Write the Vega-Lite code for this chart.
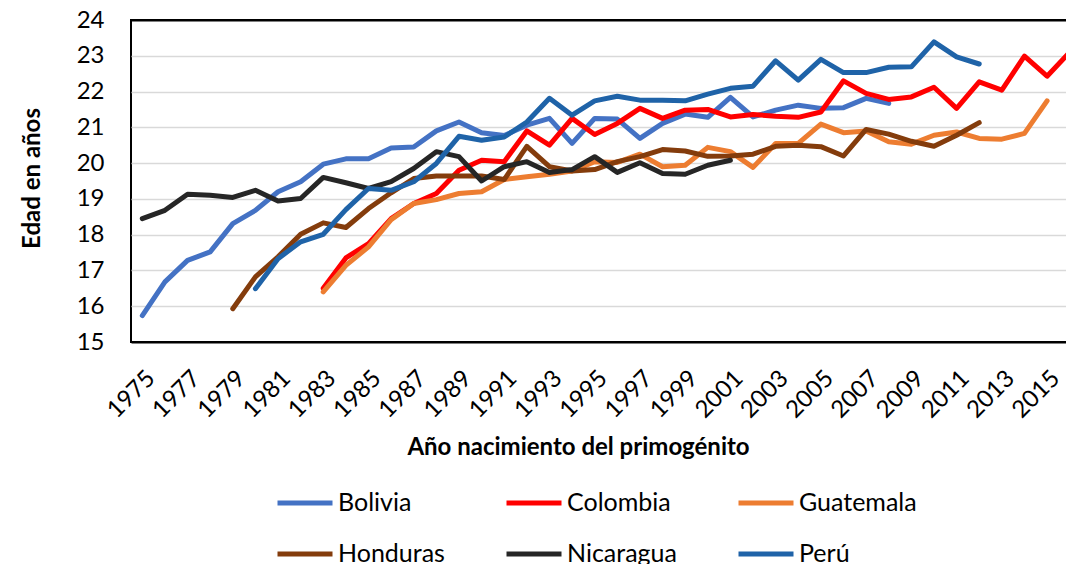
{
  "$schema": "https://vega.github.io/schema/vega-lite/v6.json",
  "width": 950,
  "height": 322,
  "autosize": "none",
  "padding": {"left": 131, "top": 20, "right": 0, "bottom": 230},
  "background": "white",
  "config": {
    "font": "Lato",
    "view": {"stroke": "black", "strokeWidth": 2},
    "axis": {"labelColor": "black", "titleColor": "black"},
    "legend": {"labelColor": "black"}
  },
  "data": {"values": [
    {"p":"Bolivia","a":1975,"v":15.74},{"p":"Bolivia","a":1976,"v":16.68},{"p":"Bolivia","a":1977,"v":17.28},{"p":"Bolivia","a":1978,"v":17.52},{"p":"Bolivia","a":1979,"v":18.31},{"p":"Bolivia","a":1980,"v":18.68},{"p":"Bolivia","a":1981,"v":19.2},{"p":"Bolivia","a":1982,"v":19.48},{"p":"Bolivia","a":1983,"v":19.97},{"p":"Bolivia","a":1984,"v":20.12},{"p":"Bolivia","a":1985,"v":20.12},{"p":"Bolivia","a":1986,"v":20.42},{"p":"Bolivia","a":1987,"v":20.45},{"p":"Bolivia","a":1988,"v":20.9},{"p":"Bolivia","a":1989,"v":21.15},{"p":"Bolivia","a":1990,"v":20.85},{"p":"Bolivia","a":1991,"v":20.77},{"p":"Bolivia","a":1992,"v":21.06},{"p":"Bolivia","a":1993,"v":21.25},{"p":"Bolivia","a":1994,"v":20.55},{"p":"Bolivia","a":1995,"v":21.25},{"p":"Bolivia","a":1996,"v":21.23},{"p":"Bolivia","a":1997,"v":20.69},{"p":"Bolivia","a":1998,"v":21.11},{"p":"Bolivia","a":1999,"v":21.37},{"p":"Bolivia","a":2000,"v":21.28},{"p":"Bolivia","a":2001,"v":21.84},{"p":"Bolivia","a":2002,"v":21.29},{"p":"Bolivia","a":2003,"v":21.48},{"p":"Bolivia","a":2004,"v":21.62},{"p":"Bolivia","a":2005,"v":21.53},{"p":"Bolivia","a":2006,"v":21.55},{"p":"Bolivia","a":2007,"v":21.81},{"p":"Bolivia","a":2008,"v":21.67},
    {"p":"Colombia","a":1983,"v":16.5},{"p":"Colombia","a":1984,"v":17.35},{"p":"Colombia","a":1985,"v":17.75},{"p":"Colombia","a":1986,"v":18.45},{"p":"Colombia","a":1987,"v":18.87},{"p":"Colombia","a":1988,"v":19.15},{"p":"Colombia","a":1989,"v":19.8},{"p":"Colombia","a":1990,"v":20.08},{"p":"Colombia","a":1991,"v":20.04},{"p":"Colombia","a":1992,"v":20.9},{"p":"Colombia","a":1993,"v":20.5},{"p":"Colombia","a":1994,"v":21.25},{"p":"Colombia","a":1995,"v":20.8},{"p":"Colombia","a":1996,"v":21.11},{"p":"Colombia","a":1997,"v":21.53},{"p":"Colombia","a":1998,"v":21.25},{"p":"Colombia","a":1999,"v":21.48},{"p":"Colombia","a":2000,"v":21.5},{"p":"Colombia","a":2001,"v":21.29},{"p":"Colombia","a":2002,"v":21.36},{"p":"Colombia","a":2003,"v":21.31},{"p":"Colombia","a":2004,"v":21.28},{"p":"Colombia","a":2005,"v":21.43},{"p":"Colombia","a":2006,"v":22.3},{"p":"Colombia","a":2007,"v":21.95},{"p":"Colombia","a":2008,"v":21.78},{"p":"Colombia","a":2009,"v":21.85},{"p":"Colombia","a":2010,"v":22.12},{"p":"Colombia","a":2011,"v":21.53},{"p":"Colombia","a":2012,"v":22.27},{"p":"Colombia","a":2013,"v":22.04},{"p":"Colombia","a":2014,"v":22.99},{"p":"Colombia","a":2015,"v":22.43},{"p":"Colombia","a":2016,"v":23.1},
    {"p":"Guatemala","a":1983,"v":16.4},{"p":"Guatemala","a":1984,"v":17.14},{"p":"Guatemala","a":1985,"v":17.66},{"p":"Guatemala","a":1986,"v":18.42},{"p":"Guatemala","a":1987,"v":18.87},{"p":"Guatemala","a":1988,"v":18.98},{"p":"Guatemala","a":1989,"v":19.15},{"p":"Guatemala","a":1990,"v":19.2},{"p":"Guatemala","a":1991,"v":19.54},{"p":"Guatemala","a":1992,"v":19.62},{"p":"Guatemala","a":1993,"v":19.69},{"p":"Guatemala","a":1994,"v":19.78},{"p":"Guatemala","a":1995,"v":20.04},{"p":"Guatemala","a":1996,"v":20.02},{"p":"Guatemala","a":1997,"v":20.25},{"p":"Guatemala","a":1998,"v":19.9},{"p":"Guatemala","a":1999,"v":19.94},{"p":"Guatemala","a":2000,"v":20.44},{"p":"Guatemala","a":2001,"v":20.32},{"p":"Guatemala","a":2002,"v":19.88},{"p":"Guatemala","a":2003,"v":20.55},{"p":"Guatemala","a":2004,"v":20.55},{"p":"Guatemala","a":2005,"v":21.09},{"p":"Guatemala","a":2006,"v":20.85},{"p":"Guatemala","a":2007,"v":20.9},{"p":"Guatemala","a":2008,"v":20.6},{"p":"Guatemala","a":2009,"v":20.53},{"p":"Guatemala","a":2010,"v":20.78},{"p":"Guatemala","a":2011,"v":20.87},{"p":"Guatemala","a":2012,"v":20.69},{"p":"Guatemala","a":2013,"v":20.67},{"p":"Guatemala","a":2014,"v":20.83},{"p":"Guatemala","a":2015,"v":21.74},
    {"p":"Honduras","a":1979,"v":15.93},{"p":"Honduras","a":1980,"v":16.82},{"p":"Honduras","a":1981,"v":17.38},{"p":"Honduras","a":1982,"v":18.01},{"p":"Honduras","a":1983,"v":18.33},{"p":"Honduras","a":1984,"v":18.2},{"p":"Honduras","a":1985,"v":18.73},{"p":"Honduras","a":1986,"v":19.17},{"p":"Honduras","a":1987,"v":19.57},{"p":"Honduras","a":1988,"v":19.64},{"p":"Honduras","a":1989,"v":19.64},{"p":"Honduras","a":1990,"v":19.64},{"p":"Honduras","a":1991,"v":19.54},{"p":"Honduras","a":1992,"v":20.47},{"p":"Honduras","a":1993,"v":19.9},{"p":"Honduras","a":1994,"v":19.78},{"p":"Honduras","a":1995,"v":19.82},{"p":"Honduras","a":1996,"v":20.04},{"p":"Honduras","a":1997,"v":20.18},{"p":"Honduras","a":1998,"v":20.38},{"p":"Honduras","a":1999,"v":20.34},{"p":"Honduras","a":2000,"v":20.19},{"p":"Honduras","a":2001,"v":20.2},{"p":"Honduras","a":2002,"v":20.25},{"p":"Honduras","a":2003,"v":20.47},{"p":"Honduras","a":2004,"v":20.5},{"p":"Honduras","a":2005,"v":20.46},{"p":"Honduras","a":2006,"v":20.2},{"p":"Honduras","a":2007,"v":20.94},{"p":"Honduras","a":2008,"v":20.81},{"p":"Honduras","a":2009,"v":20.61},{"p":"Honduras","a":2010,"v":20.47},{"p":"Honduras","a":2011,"v":20.78},{"p":"Honduras","a":2012,"v":21.13},
    {"p":"Nicaragua","a":1975,"v":18.45},{"p":"Nicaragua","a":1976,"v":18.68},{"p":"Nicaragua","a":1977,"v":19.13},{"p":"Nicaragua","a":1978,"v":19.1},{"p":"Nicaragua","a":1979,"v":19.04},{"p":"Nicaragua","a":1980,"v":19.24},{"p":"Nicaragua","a":1981,"v":18.94},{"p":"Nicaragua","a":1982,"v":19.01},{"p":"Nicaragua","a":1983,"v":19.6},{"p":"Nicaragua","a":1984,"v":19.45},{"p":"Nicaragua","a":1985,"v":19.29},{"p":"Nicaragua","a":1986,"v":19.48},{"p":"Nicaragua","a":1987,"v":19.85},{"p":"Nicaragua","a":1988,"v":20.32},{"p":"Nicaragua","a":1989,"v":20.18},{"p":"Nicaragua","a":1990,"v":19.5},{"p":"Nicaragua","a":1991,"v":19.9},{"p":"Nicaragua","a":1992,"v":20.04},{"p":"Nicaragua","a":1993,"v":19.74},{"p":"Nicaragua","a":1994,"v":19.82},{"p":"Nicaragua","a":1995,"v":20.18},{"p":"Nicaragua","a":1996,"v":19.74},{"p":"Nicaragua","a":1997,"v":20.01},{"p":"Nicaragua","a":1998,"v":19.71},{"p":"Nicaragua","a":1999,"v":19.69},{"p":"Nicaragua","a":2000,"v":19.94},{"p":"Nicaragua","a":2001,"v":20.08},
    {"p":"Perú","a":1980,"v":16.49},{"p":"Perú","a":1981,"v":17.33},{"p":"Perú","a":1982,"v":17.8},{"p":"Perú","a":1983,"v":18.01},{"p":"Perú","a":1984,"v":18.7},{"p":"Perú","a":1985,"v":19.29},{"p":"Perú","a":1986,"v":19.24},{"p":"Perú","a":1987,"v":19.48},{"p":"Perú","a":1988,"v":19.99},{"p":"Perú","a":1989,"v":20.75},{"p":"Perú","a":1990,"v":20.64},{"p":"Perú","a":1991,"v":20.73},{"p":"Perú","a":1992,"v":21.15},{"p":"Perú","a":1993,"v":21.81},{"p":"Perú","a":1994,"v":21.34},{"p":"Perú","a":1995,"v":21.74},{"p":"Perú","a":1996,"v":21.87},{"p":"Perú","a":1997,"v":21.76},{"p":"Perú","a":1998,"v":21.76},{"p":"Perú","a":1999,"v":21.74},{"p":"Perú","a":2000,"v":21.93},{"p":"Perú","a":2001,"v":22.09},{"p":"Perú","a":2002,"v":22.15},{"p":"Perú","a":2003,"v":22.86},{"p":"Perú","a":2004,"v":22.32},{"p":"Perú","a":2005,"v":22.9},{"p":"Perú","a":2006,"v":22.53},{"p":"Perú","a":2007,"v":22.53},{"p":"Perú","a":2008,"v":22.68},{"p":"Perú","a":2009,"v":22.69},{"p":"Perú","a":2010,"v":23.39},{"p":"Perú","a":2011,"v":22.97},{"p":"Perú","a":2012,"v":22.77}
  ]},
  "mark": {"type": "line", "strokeWidth": 5, "strokeCap": "round", "strokeJoin": "round"},
  "encoding": {
    "x": {
      "field": "a", "type": "ordinal",
      "scale": {"type": "point", "padding": 0.5},
      "axis": {
        "title": "Año nacimiento del primogénito",
        "titleFontSize": 24, "titleFontWeight": "bold",
        "titleX": 447, "titleY": 105, "titleBaseline": "middle",
        "values": [1975,1977,1979,1981,1983,1985,1987,1989,1991,1993,1995,1997,1999,2001,2003,2005,2007,2009,2011,2013,2015],
        "labelAngle": -45, "labelFontSize": 24, "labelPadding": 24,
        "ticks": false, "domain": false, "grid": false
      }
    },
    "y": {
      "field": "v", "type": "quantitative",
      "scale": {"domain": [15, 24], "nice": false, "zero": false},
      "axis": {
        "title": "Edad en años",
        "titleFontSize": 24, "titleFontWeight": "bold",
        "titleX": -99, "titleY": 158, "titleBaseline": "middle",
        "values": [15,16,17,18,19,20,21,22,23,24],
        "labelFontSize": 24, "labelPadding": 27,
        "ticks": false, "domain": false,
        "grid": true,
        "gridColor": {"condition": {"test": "datum.value == 15 || datum.value == 24", "value": "black"}, "value": "#d9d9d9"},
        "gridWidth": {"condition": {"test": "datum.value == 15 || datum.value == 24", "value": 2}, "value": 1.5}
      }
    },
    "color": {
      "field": "p", "type": "nominal",
      "scale": {
        "domain": ["Bolivia", "Colombia", "Guatemala", "Honduras", "Nicaragua", "Perú"],
        "range": ["#4472C4", "#FF0000", "#ED7D31", "#843C0C", "#262626", "#1F63A8"]
      },
      "legend": {
        "title": null,
        "orient": "none", "legendX": 144, "legendY": 453,
        "direction": "horizontal",
        "columns": 3, "columnPadding": 51, "rowPadding": 8,
        "symbolType": "stroke", "symbolSize": 3025, "symbolStrokeWidth": 5,
        "labelFontSize": 25, "labelOffset": 3
      }
    }
  }
}
